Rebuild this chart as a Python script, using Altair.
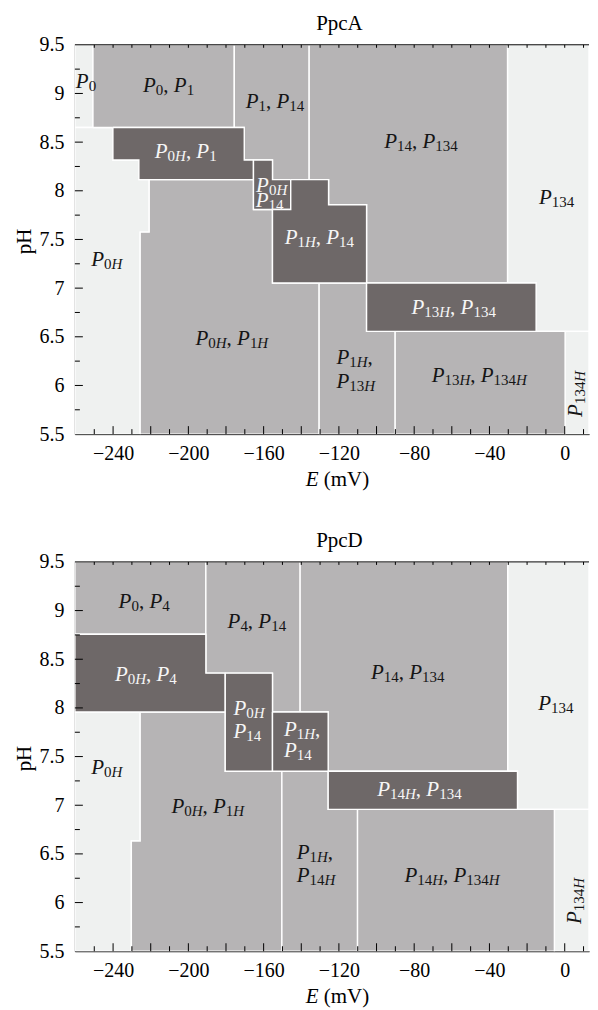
import altair as alt
import pandas as pd

# ---------------- data ----------------
XMIN, XMAX = -260.3, 12.9
YMIN, YMAX = 5.5, 9.5

# regions: (name, shade, polygon vertices as (E mV, pH))
ppca_regions = [
    ("P0", "light", [(XMIN, 8.65), (-250.7, 8.65), (-250.7, 9.5), (XMIN, 9.5)]),
    ("P0,P1", "med", [(-250.7, 8.65), (-175.6, 8.65), (-175.6, 9.5), (-250.7, 9.5)]),
    ("P1,P14", "med", [(-175.6, 9.5), (-175.6, 8.65), (-170.3, 8.65), (-170.3, 8.317), (-155.3, 8.317),
                       (-155.3, 8.115), (-135.8, 8.115), (-135.8, 9.5)]),
    ("P14,P134", "med", [(-135.8, 9.5), (-135.8, 8.115), (-125.5, 8.115), (-125.5, 7.856), (-105.3, 7.856),
                         (-105.3, 7.052), (-30.4, 7.052), (-30.4, 9.5)]),
    ("P134", "light", [(-30.4, 9.5), (-30.4, 7.052), (-15.2, 7.052), (-15.2, 6.556), (XMAX, 6.556), (XMAX, 9.5)]),
    ("P0H", "light", [(XMIN, 5.5), (-225.6, 5.5), (-225.6, 7.575), (-220.8, 7.575), (-220.8, 8.115),
                      (-226.3, 8.115), (-226.3, 8.317), (-240.1, 8.317), (-240.1, 8.65), (XMIN, 8.65)]),
    ("P0H,P1H", "med", [(-225.6, 5.5), (-130.5, 5.5), (-130.5, 7.052), (-155.3, 7.052), (-155.3, 7.808),
                        (-165.4, 7.808), (-165.4, 8.115), (-220.8, 8.115), (-220.8, 7.575), (-225.6, 7.575)]),
    ("P1H,P13H", "med", [(-130.5, 5.5), (-90.1, 5.5), (-90.1, 6.556), (-105.3, 6.556), (-105.3, 7.052),
                         (-130.5, 7.052)]),
    ("P13H,P134H", "med", [(-90.1, 5.5), (0.2, 5.5), (0.2, 6.556), (-90.1, 6.556)]),
    ("P134H", "light", [(0.2, 5.5), (XMAX, 5.5), (XMAX, 6.556), (0.2, 6.556)]),
    ("P0H,P1", "dark", [(-240.1, 8.65), (-170.3, 8.65), (-170.3, 8.317), (-165.4, 8.317), (-165.4, 8.115),
                        (-226.3, 8.115), (-226.3, 8.317), (-240.1, 8.317)]),
    ("P0H,P14", "dark", [(-165.4, 8.317), (-155.3, 8.317), (-155.3, 8.115), (-145.6, 8.115), (-145.6, 7.808),
                         (-165.4, 7.808)]),
    ("P1H,P14", "dark", [(-145.6, 8.115), (-125.5, 8.115), (-125.5, 7.856), (-105.3, 7.856), (-105.3, 7.052),
                         (-155.3, 7.052), (-155.3, 7.808), (-145.6, 7.808)]),
    ("P13H,P134", "dark", [(-105.3, 7.052), (-15.2, 7.052), (-15.2, 6.556), (-105.3, 6.556)]),
]

ppcd_regions = [
    ("P0,P4", "med", [(XMIN, 9.5), (-190.7, 9.5), (-190.7, 8.757), (XMIN, 8.757)]),
    ("P4,P14", "med", [(-190.7, 9.5), (-140.6, 9.5), (-140.6, 7.958), (-155.3, 7.958), (-155.3, 8.357),
                       (-190.7, 8.357)]),
    ("P14,P134", "med", [(-140.6, 9.5), (-30.3, 9.5), (-30.3, 7.349), (-125.7, 7.349), (-125.7, 7.958),
                         (-140.6, 7.958)]),
    ("P134", "light", [(-30.3, 9.5), (XMAX, 9.5), (XMAX, 6.957), (-25.1, 6.957), (-25.1, 7.349), (-30.3, 7.349)]),
    ("P0H", "light", [(XMIN, 7.958), (-225.6, 7.958), (-225.6, 6.633), (-230.3, 6.633), (-230.3, 5.5), (XMIN, 5.5)]),
    ("P0H,P1H", "med", [(-225.6, 7.958), (-180.4, 7.958), (-180.4, 7.349), (-150.3, 7.349), (-150.3, 5.5),
                        (-230.3, 5.5), (-230.3, 6.633), (-225.6, 6.633)]),
    ("P1H,P14H", "med", [(-150.3, 7.349), (-125.7, 7.349), (-125.7, 6.957), (-110.1, 6.957), (-110.1, 5.5),
                         (-150.3, 5.5)]),
    ("P14H,P134H", "med", [(-110.1, 6.957), (-5.5, 6.957), (-5.5, 5.5), (-110.1, 5.5)]),
    ("P134H", "light", [(-5.5, 6.957), (XMAX, 6.957), (XMAX, 5.5), (-5.5, 5.5)]),
    ("P0H,P4", "dark", [(XMIN, 8.757), (-190.7, 8.757), (-190.7, 8.357), (-180.4, 8.357), (-180.4, 7.958),
                        (XMIN, 7.958)]),
    ("P0H,P14", "dark", [(-180.4, 8.357), (-155.3, 8.357), (-155.3, 7.349), (-180.4, 7.349)]),
    ("P1H,P14", "dark", [(-155.3, 7.958), (-125.7, 7.958), (-125.7, 7.349), (-155.3, 7.349)]),
    ("P14H,P134", "dark", [(-125.7, 7.349), (-25.1, 7.349), (-25.1, 6.957), (-125.7, 6.957)]),
]

# labels: (markup, E, pH baseline, align, ink, angle)
ppca_labels = [
    ("P_{0}", -259.8, 9.059, "left", "k", 0),
    ("P_{0}, P_{1}", -210.5, 9.018, "center", "k", 0),
    ("P_{1}, P_{14}", -154.0, 8.847, "center", "k", 0),
    ("P_{14}, P_{134}", -76.4, 8.44, "center", "k", 0),
    ("P_{134}", -4.3, 7.866, "center", "k", 0),
    ("P_{0H}, P_{1}", -201.4, 8.334, "center", "w", 0),
    ("P_{0H}", -164.0, 7.985, "left", "w", 0),
    ("P_{14}", -164.2, 7.838, "left", "w", 0),
    ("P_{1H}, P_{14}", -130.4, 7.456, "center", "w", 0),
    ("P_{0H}", -243.4, 7.223, "center", "k", 0),
    ("P_{0H}, P_{1H}", -176.9, 6.42, "center", "k", 0),
    ("P_{1H},", -121.3, 6.225, "left", "k", 0),
    ("P_{13H}", -121.3, 5.969, "left", "k", 0),
    ("P_{13H}, P_{134}", -59.0, 6.731, "center", "w", 0),
    ("P_{13H}, P_{134H}", -45.4, 6.036, "center", "k", 0),
    ("P_{134H}", 9.4, 5.677, "left", "k", 270),
]

ppcd_labels = [
    ("P_{0}, P_{4}", -223.5, 9.029, "center", "k", 0),
    ("P_{4}, P_{14}", -163.6, 8.824, "center", "k", 0),
    ("P_{14}, P_{134}", -83.4, 8.296, "center", "k", 0),
    ("P_{134}", -4.7, 7.981, "center", "k", 0),
    ("P_{0H}, P_{4}", -222.6, 8.281, "center", "w", 0),
    ("P_{0H}", -176.0, 7.93, "left", "w", 0),
    ("P_{14}", -176.0, 7.692, "left", "w", 0),
    ("P_{1H},", -149.2, 7.715, "left", "w", 0),
    ("P_{14}", -149.2, 7.497, "left", "w", 0),
    ("P_{14H}, P_{134}", -77.2, 7.094, "center", "w", 0),
    ("P_{0H}", -243.4, 7.316, "center", "k", 0),
    ("P_{0H}, P_{1H}", -189.7, 6.923, "center", "k", 0),
    ("P_{1H},", -142.4, 6.445, "left", "k", 0),
    ("P_{14H}", -142.4, 6.207, "left", "k", 0),
    ("P_{14H}, P_{134H}", -59.9, 6.213, "center", "k", 0),
    ("P_{134H}", 8.8, 5.78, "left", "k", 270),
]

x_label_values = [-240, -200, -160, -120, -80, -40, 0]
y_label_values = [5.5, 6.0, 6.5, 7.0, 7.5, 8.0, 8.5, 9.0, 9.5]
x_major_ticks = [-240, -220, -200, -180, -160, -140, -120, -100, -80, -60, -40, -20, 0]
x_minor_ticks = [-250, -230, -210, -190, -170, -150, -130, -110, -90, -70, -50, -30, -10, 10]
y_major_ticks = [6.0, 6.5, 7.0, 7.5, 8.0, 8.5, 9.0]
y_minor_ticks = [5.75, 6.25, 6.75, 7.25, 7.75, 8.25, 8.75, 9.25]

# ---------------- style ----------------
W, H = 515, 390
FONT = "Liberation Serif"
MAIN, SUB, DROP = 21, 15, 3.0
SHADE = {"light": "#eff1f0", "med": "#b6b4b5", "dark": "#6e6868"}
INK = {"k": "#151515", "w": "#f6f6f6"}
ROMAN_W = {**{d: 0.5 for d in "0123456789"}, ",": 0.25, " ": 0.25, "(": 0.333, ")": 0.333,
           "m": 0.778, "V": 0.722}
ITAL_W = {"P": 0.611, "H": 0.722, "E": 0.611}
KX = (XMAX - XMIN) / W
KY = (YMAX - YMIN) / H


def pieces(markup):
    chars = []
    i = 0
    while i < len(markup):
        if markup.startswith("_{", i):
            j = markup.index("}", i)
            for ch in markup[i + 2:j]:
                chars.append((ch, ch.isalpha(), True))
            i = j + 1
        else:
            ch = markup[i]
            chars.append((ch, ch.isalpha(), False))
            i += 1
    out = []
    for ch, it, sub in chars:
        if out and out[-1][1] == it and out[-1][2] == sub:
            out[-1][0] += ch
        else:
            out.append([ch, it, sub])
    return out


def width(text, italic, size):
    tab = ITAL_W if italic else ROMAN_W
    return sum(tab[c] for c in text) * size


def label_rows(labels):
    rows = []
    for markup, e, ph, align, ink, ang in labels:
        ps = pieces(markup)
        tot = sum(width(t, it, SUB if sb else MAIN) for t, it, sb in ps)
        off = 0 if align == "left" else -tot / 2
        for t, it, sb in ps:
            size = SUB if sb else MAIN
            drop = DROP if sb else 0
            if ang == 0:
                x, y = e + off * KX, ph - drop * KY
            else:
                x, y = e + drop * KX, ph + off * KY
            rows.append({"E": x, "pH": y, "t": t, "s": size, "c": INK[ink], "a": ang, "it": it})
            off += width(t, it, size)
    return pd.DataFrame(rows)


def poly_rows(regions):
    rows = []
    for rid, (name, shade, verts) in enumerate(regions):
        vv = list(verts) + [verts[0]]
        for k, (e, ph) in enumerate(vv):
            rows.append({"rid": rid, "shade": shade, "o": k, "E": e, "pH": ph})
    return pd.DataFrame(rows)


xs = alt.Scale(domain=[XMIN, XMAX], nice=False, zero=False)
ys = alt.Scale(domain=[YMIN, YMAX], nice=False, zero=False)

x_axis = alt.Axis(values=x_label_values, format="d", ticks=False, tickSize=0, grid=False,
                  labelFont=FONT, labelFontSize=20, labelColor="black", labelPadding=25,
                  labelBaseline="alphabetic", labelFlush=False, labelOverlap=False,
                  domainColor="black", domainWidth=1, title=None)
y_axis = alt.Axis(values=y_label_values, format=".1~f", ticks=False, tickSize=0, grid=False,
                  labelFont=FONT, labelFontSize=20, labelColor="black", labelPadding=11,
                  labelBaseline="middle", labelFlush=False, labelOverlap=False,
                  domainColor="black", domainWidth=1, title=None)


def X(field):
    return alt.X(field, scale=xs, axis=x_axis)


def Y(field):
    return alt.Y(field, scale=ys, axis=y_axis)


def panel(regions, labels, title):
    poly = poly_rows(regions)
    layers = []
    for shade in ["light", "med", "dark"]:
        d = poly[poly.shade == shade]
        layers.append(
            alt.Chart(d).mark_line(filled=True, fill=SHADE[shade], stroke="white", strokeWidth=1.4,
                                   strokeJoin="miter", clip=True).encode(
                x=X("E:Q"), y=Y("pH:Q"), order="o:Q", detail="rid:N")
        )

    # inner ticks and top frame
    def xt(vals, y0, y1):
        return alt.Chart(pd.DataFrame({"E": vals})).mark_rule(color="black", strokeWidth=1).encode(
            x=X("E:Q"), y=alt.value(y0), y2=alt.value(y1))

    def yt(vals, ln):
        return alt.Chart(pd.DataFrame({"pH": vals})).mark_rule(color="black", strokeWidth=1).encode(
            y=Y("pH:Q"), x=alt.value(0), x2=alt.value(ln))

    layers += [xt(x_major_ticks, H, H - 8), xt(x_minor_ticks, H, H - 5),
               xt(x_major_ticks + x_minor_ticks, 0, 3),
               yt(y_major_ticks, 8), yt(y_minor_ticks, 5)]
    layers.append(alt.Chart(pd.DataFrame({"a": [0]})).mark_rule(color="black", strokeWidth=1).encode(
        x=alt.value(0), x2=alt.value(W), y=alt.value(0)))

    lab = label_rows(labels)
    for it in [True, False]:
        d = lab[lab.it == it]
        layers.append(
            alt.Chart(d).mark_text(align="left", baseline="alphabetic", font=FONT,
                                   fontStyle="italic" if it else "normal").encode(
                x=X("E:Q"), y=Y("pH:Q"),
                text="t:N", size=alt.Size("s:Q", scale=None), color=alt.Color("c:N", scale=None),
                angle=alt.Angle("a:Q", scale=None))
        )

    # titles (centred on the original, wider frame)
    cx = 263
    ew = width("E", True, 21) + width(" ", False, 21)
    tw = ew + width("(mV)", False, 21)
    x0 = cx - tw / 2
    layers.append(alt.Chart(pd.DataFrame({"t": [title]})).mark_text(
        font=FONT, fontSize=21, align="center", baseline="alphabetic", color="black").encode(
        text="t:N", x=alt.value(cx + 2), y=alt.value(-15)))
    layers.append(alt.Chart(pd.DataFrame({"t": ["E"]})).mark_text(
        font=FONT, fontSize=21, fontStyle="italic", align="left", baseline="alphabetic", color="black").encode(
        text="t:N", x=alt.value(x0), y=alt.value(H + 52)))
    layers.append(alt.Chart(pd.DataFrame({"t": ["(mV)"]})).mark_text(
        font=FONT, fontSize=21, align="left", baseline="alphabetic", color="black").encode(
        text="t:N", x=alt.value(x0 + ew), y=alt.value(H + 52)))
    layers.append(alt.Chart(pd.DataFrame({"t": ["pH"]})).mark_text(
        font=FONT, fontSize=21, align="center", baseline="alphabetic", angle=270, color="black").encode(
        text="t:N", x=alt.value(-44), y=alt.value(H / 2 + 2)))

    return alt.layer(*layers).properties(width=W, height=H)


chart = alt.vconcat(
    panel(ppca_regions, ppca_labels, "PpcA"),
    panel(ppcd_regions, ppcd_labels, "PpcD"),
    spacing=40,
).properties(
    padding={"left": 6, "right": 0, "top": 4, "bottom": 0},
    background="white",
).configure_view(stroke=None)

chart.save("out.html", embed_options={"renderer": "svg", "actions": False})
